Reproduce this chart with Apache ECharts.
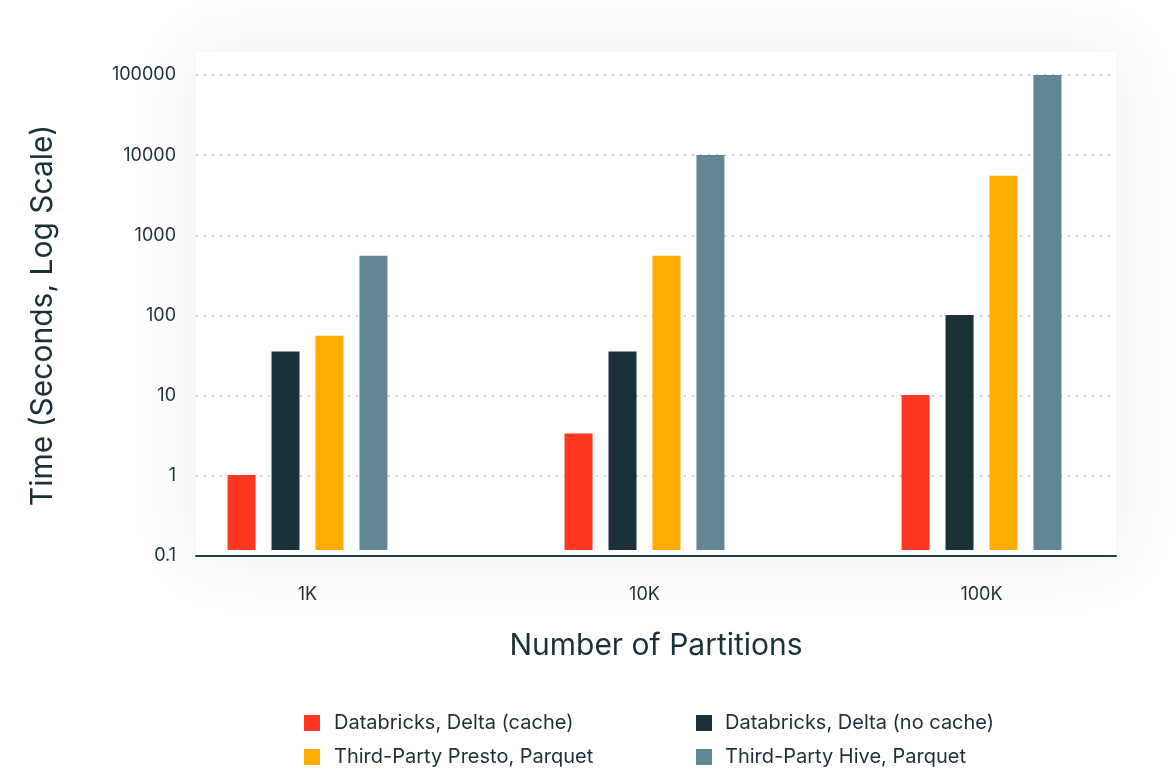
<!DOCTYPE html>
<html>
<head>
<meta charset="utf-8">
<script src="https://cdn.jsdelivr.net/npm/echarts@6/dist/echarts.min.js"></script>
<style>
html,body{margin:0;padding:0;background:#ffffff;}
#chart{width:1176px;height:778px;}
</style>
</head>
<body>
<div id="chart"></div>
<script>
// ---- data ----
const categories = ['1K', '10K', '100K'];
const seriesNames = ['Databricks, Delta (cache)', 'Databricks, Delta (no cache)', 'Third-Party Presto, Parquet', 'Third-Party Hive, Parquet'];
const deltaCache = [1, 3.3, 10];
const deltaNoCache = [35, 35, 100];
const prestoParquet = [55, 550, 5500];
const hiveParquet = [550, 10000, 100000];
const yTickLabels = ['0.1', '1', '10', '100', '1000', '10000', '100000'];
const yAxisTitle = 'Time (Seconds, Log Scale)';
const xAxisTitle = 'Number of Partitions';

// ---- style ----
const colors = ['#ff3621', '#1b3139', '#ffab00', '#618794'];
const textColor = '#1b3139';
const font = 'Inter, "Noto Sans", sans-serif';

const chart = echarts.init(document.getElementById('chart'), null, {renderer: 'canvas'});

const seriesData = [deltaCache, deltaNoCache, prestoParquet, hiveParquet];

const legendCommon = {
  orient: 'vertical', top: 711, padding: 0,
  icon: 'rect', itemWidth: 16, itemHeight: 16, itemGap: 10
};

const option = {
  backgroundColor: '#ffffff',
  animation: false,
  textStyle: {fontFamily: font, color: textColor},
  graphic: [{
    type: 'rect', z: -10, silent: true,
    shape: {x: 196, y: 52, width: 920, height: 503},
    style: {fill: '#ffffff', shadowBlur: 60, shadowColor: 'rgba(40,50,60,0.10)'}
  }],
  legend: [
    Object.assign({}, legendCommon, {
      data: [seriesNames[0], seriesNames[2]], left: 304,
      textStyle: {fontFamily: font, fontSize: 20, color: textColor, lineHeight: 24, padding: [0, 0, 0, 9]}
    }),
    Object.assign({}, legendCommon, {
      data: [seriesNames[1], seriesNames[3]], left: 696,
      textStyle: {fontFamily: font, fontSize: 20, color: textColor, lineHeight: 24, padding: [0, 0, 0, 8]}
    })
  ],
  grid: [
    {left: 196, right: 60, top: 75, bottom: 222, containLabel: false},
    {left: 139, width: 1011, top: 75, bottom: 228, containLabel: false}
  ],
  xAxis: [
    {
      gridIndex: 0, type: 'category', data: categories,
      axisLine: {lineStyle: {color: '#1f3d47', width: 2}},
      axisTick: {show: false}, axisLabel: {show: false},
      name: xAxisTitle, nameLocation: 'middle', nameGap: 75,
      nameTextStyle: {fontFamily: font, fontSize: 30, color: textColor}
    },
    {
      gridIndex: 1, type: 'category', data: categories,
      axisLine: {show: false}, axisTick: {show: false},
      axisLabel: {margin: 36, fontFamily: font, fontSize: 18, color: textColor}
    }
  ],
  yAxis: [
    {
      gridIndex: 0, type: 'log', logBase: 10, min: 0.1, max: 100000,
      axisLine: {show: false}, axisTick: {show: false},
      axisLabel: {
        margin: 20, fontFamily: font, fontSize: 18, color: textColor,
        formatter: function (v) {
          const i = Math.round(Math.log10(v)) + 1;
          return yTickLabels[i] !== undefined ? yTickLabels[i] : '';
        }
      },
      splitLine: {show: true, lineStyle: {color: '#c9cdda', width: 2, type: [2, 6]}},
      name: yAxisTitle, nameLocation: 'middle', nameGap: 138,
      nameTextStyle: {fontFamily: font, fontSize: 30, color: textColor}
    },
    {
      gridIndex: 1, type: 'log', logBase: 10, min: 0.115, max: 100000, startValue: 0.115,
      show: false, splitLine: {show: false}
    }
  ],
  series: seriesNames.map((name, i) => ({
    name: name, type: 'bar', xAxisIndex: 1, yAxisIndex: 1,
    data: seriesData[i], barWidth: 28, barGap: '57%',
    itemStyle: {color: colors[i]}
  }))
};

chart.setOption(option);
</script>
</body>
</html>
